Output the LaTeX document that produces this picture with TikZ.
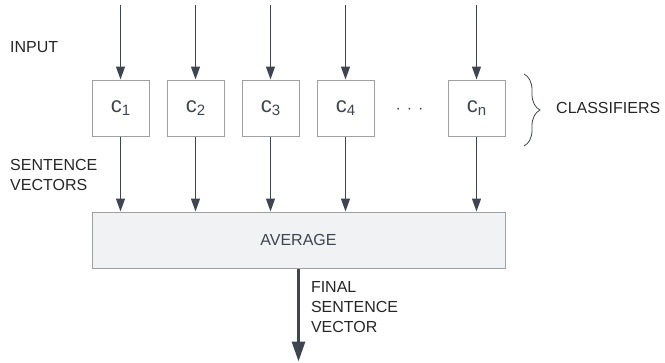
\documentclass[tikz,border=0pt]{standalone}
\usepackage{fontspec}
\setmainfont{Liberation Sans}
\usetikzlibrary{arrows.meta,positioning,decorations.pathreplacing}

\definecolor{arrowgray}{HTML}{3F4550}
\definecolor{boxline}{HTML}{A0A0A0}
\definecolor{avgfill}{HTML}{F1F2F4}

\newcommand{\clfname}[1]{\fontsize{22}{22}\selectfont c\raisebox{-2.5pt}{\fontsize{15}{15}\selectfont #1}}

\begin{document}
\begin{tikzpicture}[x=1pt,y=-1pt,>={Triangle[width=9pt,length=13pt]},node distance=75pt,
    every node/.style={font=\fontsize{16}{20}\selectfont,text=black!85},
    clf/.style={draw=boxline,line width=1pt,minimum width=57pt,minimum height=56pt,inner sep=0pt,text=arrowgray},
    avgbox/.style={draw=boxline,fill=avgfill,line width=1pt,minimum width=413pt,minimum height=56pt,inner sep=0pt,text=arrowgray},
    flow/.style={->,draw=arrowgray,line width=1.2pt},
    lbl/.style={align=left,anchor=west,inner sep=0pt}]
      \useasboundingbox (0,0) rectangle (665,362);

      \node[clf] (c1) at (120.5,108) {\clfname{1}};
      \node[clf] (c2) [right of=c1] {\clfname{2}};
      \node[clf] (c3) [right of=c2] {\clfname{3}};
      \node[clf] (c4) [right of=c3] {\clfname{4}};
      \node (dots) [right of=c4,node distance=64pt,yshift=-3pt,text=arrowgray] {·\hspace{6pt}·\hspace{6pt}·};
      \node[clf] (cn) [right of=c4,node distance=131pt] {\clfname{n}};

      \node[avgbox] (avg) at (298.5,240) {AVERAGE};

      \node[lbl] (input) at (10,47) {INPUT};
      \node[lbl] (sentvec) at (10,175) {SENTENCE\\VECTORS};
      \node[lbl] (classif) at (556,108) {CLASSIFIERS};

      \foreach \i in {1,2,3,4,n} {
        \coordinate (in\i) at ([yshift=75pt]c\i.north);
        \draw[flow] (in\i) -- (c\i);
        \draw[flow] (c\i) -- (c\i |- avg.north);
      }

      \coordinate (out) at ([yshift=-93pt]avg.south);
      \draw[->,draw=arrowgray,line width=3pt,>={Triangle[width=13pt,length=20pt]}] (avg) -- (out)
        node[pos=0.42,lbl,right=11pt] {FINAL\\SENTENCE\\VECTOR};

      % brace round the classifiers
      \draw[arrowgray,line width=0.8pt,decorate,decoration={brace,amplitude=16pt}] (524,74) -- (524,146);
\end{tikzpicture}
\end{document}
